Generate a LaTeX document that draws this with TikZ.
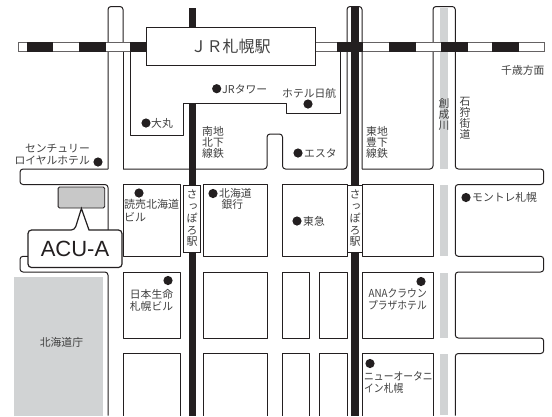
\documentclass[tikz,border=0pt]{standalone}
\usepackage{fontspec}
\setmainfont{Liberation Sans}
\newfontfamily\jpfont{Noto Sans CJK JP}
\newfontfamily\jpnarrow[FakeStretch=0.89]{Noto Sans CJK JP}
\newfontfamily\jpvert[RawFeature=+vert]{Noto Sans CJK JP}
\definecolor{ink}{HTML}{231F20}
\definecolor{labelgray}{HTML}{404040}
\definecolor{rivergray}{HTML}{D1D3D4}
\definecolor{boxgray}{HTML}{C8C8C8}
\tikzset{
  road/.style={draw=ink,line width=1pt,line join=round},
  lbl/.style={inner sep=0pt,text=labelgray,font=\jpfont\fontsize{10.8}{11.6}\selectfont,align=left},
  vlbl/.style={inner sep=0pt,text=labelgray,font=\jpvert\fontsize{10.8}{11}\selectfont,align=center},
  stlbl/.style={draw=ink,line width=1pt,fill=white,inner sep=0pt,text=labelgray,font=\jpvert\fontsize{11}{11.8}\selectfont,align=center},
  dot/.style={circle,fill=ink,inner sep=0pt,minimum size=9.2pt},
  railw/.style={fill=white,draw=ink!70,line width=0.9pt},
  railb/.style={fill=ink,draw=ink,line width=0.9pt},
  subway/.style={fill=ink,draw=none},
  river/.style={fill=rivergray,draw=none},
  block/.style={road},
}
\begin{document}
\begin{tikzpicture}[x=1pt,y=-1pt]
\useasboundingbox (0,0) rectangle (552,416);
\fill[white] (0,0) rectangle (552,416);

% grey areas
\fill[river] (14,276.5) rectangle (103,416);
\foreach \a/\b in {8/169,185/256,273/338,354/415}
  \fill[river] (440,\a) rectangle (448,\b);

% roads
\draw[road,rounded corners=3pt] (108,169) -- (108,6.5) -- (123,6.5) -- (123,42);
\draw[road] (123,51) -- (123,169);
\draw[road,rounded corners=3pt] (123,169) -- (267,169) -- (267,134) -- (282.5,134) -- (282.5,169) -- (347,169) -- (347,6.5) -- (362,6.5) -- (362,169);
\draw[road,rounded corners=3pt] (362,169) -- (433,169) -- (433,6.5) -- (455.3,6.5) -- (455.3,169) -- (543.7,169) -- (543.7,184.5) -- (455.3,184.5) -- (455.3,256.3) -- (543.7,256.3) -- (543.7,272) -- (455.3,272) -- (455.3,338) -- (543.7,338) -- (543.7,353.5) -- (455.3,353.5) -- (455.3,415.5);
\draw[road,rounded corners=3pt] (108,169) -- (20,169) -- (20,184.5) -- (108,184.5) -- (108,240);
\draw[road,rounded corners=3pt] (40,256.3) -- (20,256.3) -- (20,272) -- (108,272) -- (108,415.5);
\draw[road] (130,51) -- (130,135.5) -- (183,135.5) -- (183,103) -- (286,103) -- (286,113) -- (340,113) -- (340,51);

% city blocks
\foreach \xa/\xb in {123/180.5,203.7/267,282.5/347,362/433}
  \draw[block] (\xa,184.5) rectangle (\xb,256.3);
\foreach \xa/\xb in {123/180.5,203.7/267,282.5/309,319/347,362/433}{
  \draw[block] (\xa,272) rectangle (\xb,338);
  \draw[block] (\xa,415.5) -- (\xa,353.5) -- (\xb,353.5) -- (\xb,415.5);
}

% railway
\foreach \xa/\xb in {18.5/27,52/79,105/130,362.7/389.3,415/441,467/492.7,518/544,315/337.7}
  \draw[railw] (\xa,42) rectangle (\xb,51.5);
\foreach \xa/\xb in {27/52,79/105,130/146,337.7/362.7,389.3/415,441/467,492.7/518}
  \draw[railb] (\xa,42) rectangle (\xb,51.5);

% subway lines
\fill[subway] (188.5,8) rectangle (196,28);
\fill[subway] (188.5,103) rectangle (196,186);
\fill[subway] (188.5,252) rectangle (196,416);
\fill[subway] (351,6.5) rectangle (358.8,186);
\fill[subway] (351,252) rectangle (358.8,416);

% station
\node[draw=ink,line width=1pt,fill=white,minimum width=169pt,minimum height=37.5pt,inner sep=0pt,text=labelgray,font=\jpfont\fontsize{16}{16}\selectfont] (station) at (230.5,46.25) {ＪＲ札幌駅};
\node[stlbl,minimum width=16.6pt,minimum height=67pt] (st1) at (192,218.5) {さ\\っ\\ぽ\\ろ\\駅};
\node[stlbl,minimum width=15pt,minimum height=67pt] (st2) at (355,218.5) {さ\\っ\\ぽ\\ろ\\駅};

% target box and callout
\node[draw=ink,line width=0.9pt,fill=boxgray,rounded corners=1.5pt,minimum width=46.7pt,minimum height=21pt,inner sep=0pt] (acubox) at (81.4,197.5) {};
\coordinate (tip) at (acubox.south);
\filldraw[draw=ink,line width=1.2pt,fill=white,rounded corners=3.5pt]
  (28,230) -- (74.7,230) [sharp corners] -- (tip) -- (89,230) [rounded corners=3.5pt] -- (122,230) -- (122,267.5) -- (28,267.5) -- cycle;
\node[inner sep=0pt,text=ink,font=\fontsize{22}{22}\selectfont] (acu) at (75,249) {ACU-A};

% dots
\node[dot] (d1) at (216.7,88.7) {};
\node[dot] (d2) at (146,123) {};
\node[dot] (d3) at (98,162) {};
\node[dot] (d4) at (308,104) {};
\node[dot] (d5) at (298,153) {};
\node[dot] (d6) at (466,197.5) {};
\node[dot] (d7) at (297,221) {};
\node[dot] (d8) at (139,193) {};
\node[dot] (d9) at (213,193.5) {};
\node[dot] (d10) at (168,280.5) {};
\node[dot] (d11) at (421,281.5) {};
\node[dot] (d12) at (370,363.5) {};

% labels
\node[lbl,anchor=west] (t1) at (222,89) {JRタワー};
\node[lbl,anchor=west] (t2) at (151,123) {大丸};
\node[lbl,anchor=east,align=right] (t3) at (90,154.5) {センチュリー\\ロイヤルホテル};
\node[lbl,anchor=west] (t4) at (282,93) {ホテル日航};
\node[lbl,anchor=west] (t5) at (304,153) {エスタ};
\node[lbl,anchor=west] (t6) at (501,70.5) {千歳方面};
\node[lbl,anchor=west,align=left,font=\jpfont\fontsize{10.8}{10.6}\selectfont] (t7) at (202,142.5) {南地\\北下\\線鉄};
\node[lbl,anchor=west,align=left,font=\jpfont\fontsize{10.8}{10.6}\selectfont] (t8) at (366,142.5) {東地\\豊下\\線鉄};
\node[vlbl,anchor=north] (t9) at (444,98) {創\\成\\川};
\node[vlbl,anchor=north] (t10) at (465,97) {石\\狩\\街\\道};
\node[lbl,anchor=west] (t11) at (472,197.5) {モントレ札幌};
\node[lbl,anchor=west] (t12) at (303,221) {東急};
\node[lbl,anchor=west,font=\jpfont\fontsize{11}{12.5}\selectfont] (t13) at (124,210.5) {読売北海道\\ビル};
\node[lbl,anchor=west] (t14) at (219,199) {北海道\\\ 銀行};
\node[lbl,anchor=center,align=center] (t15) at (151.5,300.5) {日本生命\\札幌ビル};
\node[lbl] (t16) at (61.5,342) {北海道庁};
\node[lbl,anchor=east,align=right,font=\jpnarrow\fontsize{11}{12}\selectfont] (t17) at (427,299) {ANAクラウン\\プラザホテル};
\node[lbl,anchor=west,font=\jpnarrow\fontsize{11}{12}\selectfont] (t18) at (364,382) {ニューオータニ\\イン札幌};
\end{tikzpicture}
\end{document}
